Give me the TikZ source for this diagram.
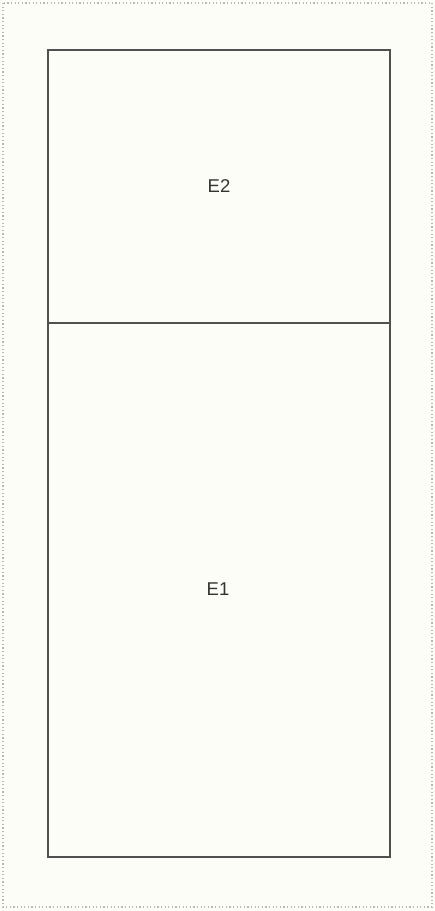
\documentclass[tikz,border=0pt]{standalone}
\usepackage{fontspec}
\setmainfont{Liberation Sans}
\definecolor{bg}{HTML}{FDFDF8}
\definecolor{edge}{HTML}{505050}
\definecolor{dots}{HTML}{B8B8B8}
\begin{document}
\begin{tikzpicture}[x=1pt,y=-1pt,
  frame/.style={draw=edge,line width=1.6pt},
  lbl/.style={font=\fontsize{18.5}{22}\selectfont,text=black!80}]
\useasboundingbox (0,0) rectangle (435,911);
\fill[bg] (0,0) rectangle (435,911);
\draw[dots,line width=1.2pt,dash pattern=on 1.2pt off 2.4pt] (3,3) rectangle (432,907);
\draw[frame] (48,50) rectangle (390,857);
\coordinate (dl) at (48,323);
\coordinate (dr) at (390,323);
\draw[frame] (dl) -- (dr);
\node[lbl] (e2) at (219,186) {E2};
\node[lbl] (e1) at (218,589) {E1};
\end{tikzpicture}
\end{document}
